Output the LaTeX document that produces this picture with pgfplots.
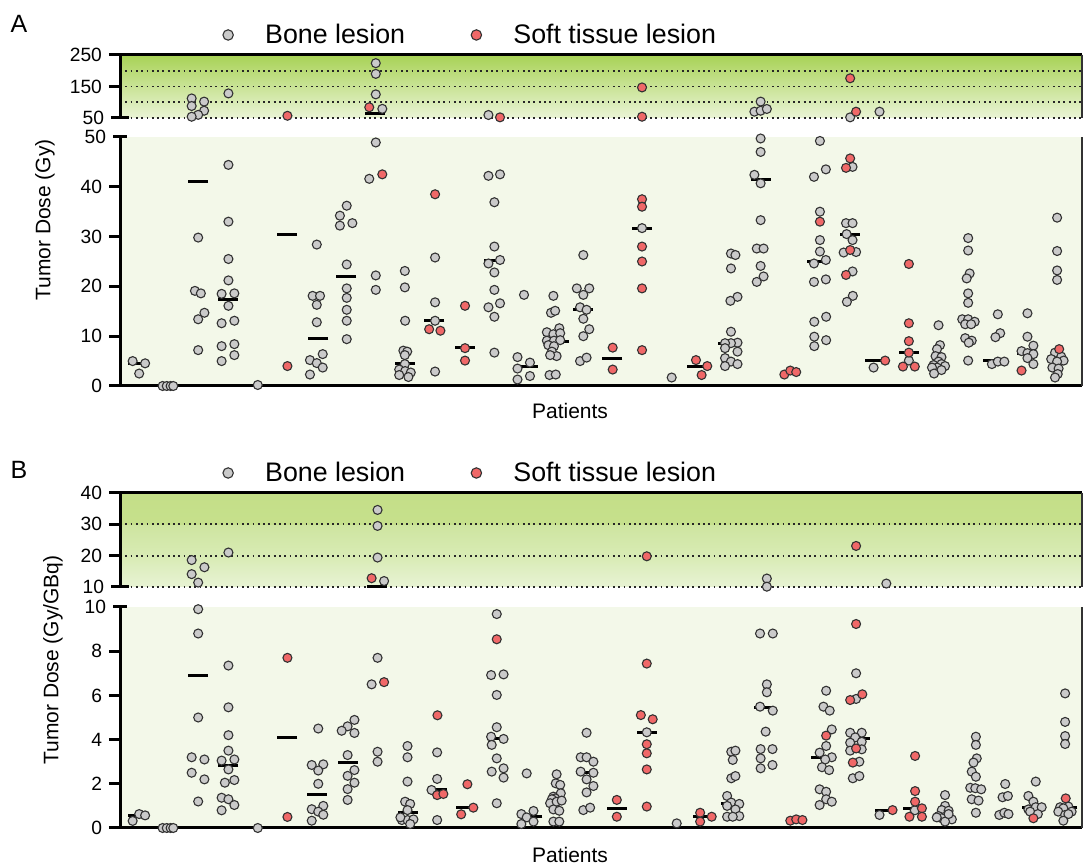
\documentclass[border=0pt]{standalone}
\usepackage{pgfplots}
\pgfplotsset{compat=1.18}
\usepackage{pgfplotstable}
\usepackage{fontspec}
\setmainfont{Liberation Sans}

\definecolor{bonegray}{RGB}{202,202,202}
\definecolor{softred}{RGB}{240,104,104}
\definecolor{edge}{RGB}{50,50,50}
\definecolor{lowbg}{RGB}{243,248,233}
\definecolor{aTop}{RGB}{168,210,86}
\definecolor{aBot}{RGB}{234,244,214}
\definecolor{bTen}{RGB}{232,243,212}
\definecolor{bTwenty}{RGB}{216,235,180}
\definecolor{bThirtyLo}{RGB}{206,229,160}
\definecolor{bThirtyHi}{RGB}{198,224,140}
\definecolor{bForty}{RGB}{196,223,136}

\pgfdeclareverticalshading{ashade}{100bp}{color(0bp)=(aBot); color(25bp)=(aBot); color(75bp)=(aTop); color(100bp)=(aTop)}
\pgfdeclareverticalshading{bshade}{100bp}{color(0bp)=(bTen); color(25bp)=(bTen); color(41.67bp)=(bTwenty); color(58.2bp)=(bThirtyLo); color(58.4bp)=(bThirtyHi); color(75bp)=(bForty); color(100bp)=(bForty)}

% ---------------- Panel A: absorbed tumor dose (Gy) ----------------
\pgfplotstableread{
x y
0.82 5.0
1.04 2.5
1.24 4.55
1.83 0
1.97 0
2.10 0
2.19 0
2.81 112
2.81 88
3.23 102
3.23 73
3.03 60
2.81 54
3.03 29.8
2.92 19.1
3.12 18.6
3.24 14.7
3.03 13.4
3.03 7.2
4.05 128
4.05 44.4
4.05 33
4.05 25.5
4.05 21.2
3.82 18.5
4.25 18.6
4.05 16.1
3.82 12.6
4.25 13.1
3.82 8.0
4.25 8.4
4.25 6.2
3.82 5.0
5.04 0.2
7.03 28.4
6.89 18.1
7.14 18.1
7.03 16.3
7.03 12.8
7.23 6.4
6.80 5.2
7.03 4.6
7.23 3.7
6.80 2.3
8.04 36.2
7.81 34.2
7.81 32.2
8.23 32.7
8.04 24.4
8.04 19.6
8.04 17.7
8.04 15.3
8.04 13.1
8.04 9.4
9.02 224
9.02 190
9.02 125
9.24 79
9.02 48.9
8.80 41.6
9.02 22.2
9.02 19.3
10.00 23.1
10.00 19.8
10.01 13.1
9.95 7.1
10.08 6.9
10.00 6.2
10.00 4.4
9.81 3.3
10.01 3.0
10.20 2.7
9.81 2.2
10.12 1.8
11.02 25.8
11.02 16.8
11.02 13.1
11.02 2.9
12.82 59.5
12.82 42.2
13.21 42.5
13.02 36.9
13.02 28.0
13.21 25.3
12.82 24.6
13.02 22.8
13.02 19.3
13.21 16.6
12.82 15.8
13.02 13.9
13.02 6.7
14.02 18.3
13.80 5.8
14.22 4.7
13.80 3.5
14.22 2.0
13.80 1.3
15.01 18.1
14.93 14.7
15.07 15.1
14.79 10.8
15.01 10.4
15.21 11.6
15.24 10.6
14.79 9.1
15.03 9.1
15.24 9.2
14.84 8.2
15.03 8.0
14.96 6.9
15.12 6.0
14.90 6.2
14.88 2.2
15.09 2.3
16.02 26.3
15.80 19.6
16.22 19.6
16.02 18.3
15.91 15.8
16.13 15.3
16.02 13.5
16.22 11.4
16.02 10.0
15.91 5.0
16.13 5.7
18.00 31.7
19.00 1.7
21.00 26.6
21.15 26.3
21.00 23.6
21.22 17.9
20.98 17.1
21.00 10.9
21.22 8.7
21.00 8.6
20.80 8.6
20.80 7.6
21.22 6.9
20.80 5.6
21.00 4.9
21.22 4.4
20.80 4.0
22.00 102
21.79 70
22.00 73
22.21 78.6
22.00 49.7
22.00 47.0
21.79 42.4
22.00 40.7
22.00 33.3
21.87 27.6
22.10 27.6
22.00 24.1
22.10 22.0
21.87 20.9
24.00 49.2
24.20 43.5
23.80 42.0
24.00 35.0
24.00 29.3
24.00 27.0
24.20 25.3
23.80 24.6
24.20 21.4
23.80 20.9
24.21 13.9
23.81 12.9
23.81 9.9
24.21 9.2
23.81 8.0
25.02 52
25.10 44.0
24.88 32.7
25.10 32.7
24.90 30.5
25.10 29.3
24.80 26.8
25.22 26.9
25.10 23.0
25.11 18.1
24.91 16.9
26.01 70
25.81 3.7
27.00 5.1
28.00 12.2
28.05 8.2
27.95 7.4
27.90 6.0
28.10 5.8
28.00 4.9
27.83 4.2
28.10 4.4
28.22 4.0
27.95 3.7
27.78 3.7
28.10 3.2
27.85 2.5
29.00 29.7
29.00 27.2
29.05 22.6
28.95 21.6
29.00 18.6
29.00 16.7
28.80 13.4
29.00 13.4
29.22 12.9
28.90 12.4
29.10 12.4
28.90 9.6
29.12 9.1
29.02 8.7
29.00 5.1
30.00 14.4
30.08 10.6
29.92 9.8
29.80 4.4
30.00 4.9
30.22 4.9
31.00 14.6
31.00 9.9
31.20 8.1
30.80 7.0
31.00 6.6
31.20 6.4
31.00 5.6
31.20 4.4
32.00 33.8
32.00 27.1
32.00 23.2
32.00 21.3
31.93 6.7
32.14 5.9
31.80 5.4
32.22 5.1
32.00 4.9
31.84 3.7
32.05 3.5
32.02 2.4
31.93 1.7
}\Abone

\pgfplotstableread{
x y
6.04 57
6.04 4.0
8.80 84
9.24 42.5
11.02 38.5
10.82 11.4
11.20 11.1
12.03 16.1
12.03 7.6
12.03 5.1
13.21 52
17.01 7.7
17.01 3.3
18.00 147
18.00 54
18.00 37.5
18.00 36.0
18.00 28.0
18.00 25.0
18.00 19.6
18.00 7.2
19.82 5.2
20.20 4.0
20.01 2.2
22.80 2.3
23.00 3.1
23.20 2.8
24.00 33.0
25.02 176
25.22 70
25.02 45.7
24.88 43.8
25.02 27.3
24.88 22.3
26.20 5.1
27.00 24.5
27.00 12.6
27.00 9.0
27.00 6.7
26.80 3.9
27.20 3.9
30.80 3.1
32.07 7.4
}\Asoft

% medians per patient
\pgfplotstableread{
x y
1.00 4.5
3.03 41.0
4.02 17.3
6.03 30.5
7.08 9.6
8.03 22.0
9.00 64
10.00 4.5
11.00 13.1
12.03 7.8
13.00 25.2
14.15 4.0
15.20 8.9
16.00 15.3
17.00 5.5
18.00 31.7
19.87 4.0
20.90 8.6
22.00 41.5
23.90 25.0
25.00 30.5
25.85 5.1
27.00 6.7
29.85 5.2
31.00 6.6
}\Amed

% ---------------- Panel B: dose per activity (Gy/GBq) ----------------
\pgfplotstableread{
x y
0.82 0.32
1.04 0.63
1.24 0.57
1.83 0
1.97 0
2.10 0
2.19 0
2.81 18.6
3.24 16.3
2.81 14.1
3.03 11.4
3.03 9.9
3.03 8.8
3.03 5.0
2.81 3.2
3.24 3.1
2.81 2.5
3.24 2.2
3.03 1.2
4.05 21.0
4.05 7.35
4.05 5.46
4.05 4.2
4.05 3.5
3.82 3.05
4.25 3.1
4.05 2.65
4.25 2.17
3.93 2.05
3.82 1.37
4.05 1.3
4.25 1.04
3.82 0.8
5.04 0
7.08 4.5
6.86 2.85
7.25 2.88
7.08 2.6
7.08 2.0
6.86 0.85
7.25 1.0
7.08 0.74
7.25 0.6
6.86 0.33
8.30 4.89
8.07 4.6
7.87 4.4
8.30 4.3
8.07 3.3
8.30 2.62
8.07 2.36
8.30 2.05
8.07 1.76
8.07 1.27
9.08 34.6
9.08 29.5
9.08 19.4
9.30 11.9
9.08 7.7
8.88 6.5
9.08 3.45
9.08 3.0
10.09 3.71
10.09 3.2
10.09 2.1
10.01 1.19
10.18 1.09
10.09 0.81
9.90 0.36
10.09 0.36
10.29 0.39
9.85 0.48
10.18 0.18
11.09 3.42
11.09 2.22
10.90 1.72
11.09 0.36
13.10 9.68
12.91 6.92
13.33 6.95
13.10 6.02
13.10 4.56
12.91 4.13
13.33 4.03
12.93 3.76
13.10 3.15
13.33 2.70
12.93 2.55
13.33 2.28
13.10 1.12
14.11 2.47
14.34 0.77
13.93 0.63
14.11 0.48
14.34 0.29
13.93 0.18
15.12 2.43
15.09 2.02
15.24 1.95
15.26 1.57
15.01 1.42
15.07 1.34
14.96 1.30
14.90 1.12
15.12 1.19
15.29 1.24
15.01 0.84
15.21 0.78
15.01 0.29
15.21 0.29
16.13 4.31
15.93 3.2
16.13 3.2
16.36 3.0
15.93 2.55
16.36 2.5
16.13 2.2
16.36 1.9
16.13 1.61
16.02 0.81
16.25 0.92
18.16 4.33
19.17 0.21
21.01 3.45
21.15 3.5
21.06 3.08
21.01 2.25
21.15 2.35
20.87 1.45
21.01 1.15
21.28 1.09
20.87 1.0
21.15 0.84
20.87 0.51
21.28 0.54
21.06 0.51
22.21 12.7
22.21 10.1
21.98 8.8
22.41 8.8
22.21 6.5
22.21 6.14
21.98 5.49
22.41 5.31
22.17 4.36
22.00 3.57
22.40 3.57
22.00 3.15
22.40 2.85
22.00 2.7
24.21 6.21
24.12 5.49
24.33 5.31
24.40 4.46
24.21 3.71
23.99 3.41
24.40 3.2
24.18 3.1
24.07 2.75
24.31 2.62
23.99 1.75
24.21 1.64
24.21 1.30
23.99 1.04
24.40 1.19
25.22 7.0
25.22 5.84
25.02 4.31
25.41 4.31
25.19 4.1
25.02 3.86
25.41 3.9
25.41 3.56
25.02 3.5
25.33 3.0
25.11 2.25
25.33 2.35
26.24 11.1
26.01 0.59
27.20 0.80
28.22 1.49
28.22 1.0
28.11 0.81
28.34 0.78
28.00 0.54
28.22 0.51
28.45 0.39
28.11 0.44
28.22 0.29
27.94 0.48
28.34 0.63
29.26 4.13
29.26 3.76
29.29 3.15
29.18 2.96
29.12 2.55
29.26 2.32
29.07 1.82
29.24 1.80
29.44 1.75
29.12 1.30
29.35 1.24
29.26 0.69
30.25 1.99
30.16 1.39
30.34 1.45
30.05 0.59
30.22 0.69
30.36 0.63
31.28 2.10
31.03 1.45
31.20 1.19
31.03 0.84
31.28 0.94
31.48 0.94
31.09 0.74
31.35 0.63
32.27 6.09
32.27 4.8
32.27 4.16
32.27 3.8
32.10 0.94
32.38 0.97
32.21 0.89
32.49 0.74
32.04 0.74
32.27 0.59
32.38 0.63
32.21 0.33
}\Bbone

\pgfplotstableread{
x y
6.04 7.7
6.04 0.5
8.88 12.8
9.30 6.6
11.10 5.1
11.09 1.49
11.30 1.54
12.11 1.98
12.31 0.92
11.90 0.62
13.10 8.54
17.15 1.27
17.15 0.51
18.16 19.8
18.16 7.44
17.96 5.11
18.36 4.92
18.16 3.79
18.16 3.38
18.16 2.65
18.16 0.97
19.96 0.69
20.35 0.51
19.96 0.29
23.00 0.33
23.20 0.39
23.41 0.36
24.21 4.18
25.22 23.1
25.22 9.23
25.02 5.79
25.43 6.05
25.22 3.6
25.11 2.96
26.45 0.81
27.21 3.26
27.21 1.67
27.21 1.19
27.44 0.89
27.02 0.51
27.44 0.51
31.20 0.44
32.29 1.34
}\Bsoft

\pgfplotstableread{
x y
1.00 0.55
3.03 6.9
4.05 2.85
6.04 4.1
7.03 1.52
8.07 2.95
9.05 10.1
10.09 0.69
11.10 1.72
12.05 0.92
13.10 4.06
14.30 0.54
16.10 2.5
17.15 0.89
18.16 4.33
20.05 0.51
21.00 1.12
22.10 5.44
24.05 3.18
25.35 4.03
26.20 0.81
27.15 0.89
31.15 0.94
32.35 0.94
}\Bmed

\pgfplotsset{
  legimg/.style={legend image code/.code={%
    \path[draw=none, fill=none] (-2.6pt,0pt) -- (16.5pt,0pt);
    \draw[##1, mark size=2.6pt] plot coordinates {(0pt,0pt)};}},
  bone/.style={only marks, mark=*, mark size=2.25pt,
    mark options={fill=bonegray, draw=edge, line width=0.55pt}, legimg},
  soft/.style={only marks, mark=*, mark size=2.25pt,
    mark options={fill=softred, draw=edge, line width=0.55pt}, legimg},
  med/.style={only marks, mark=-, mark size=5pt,
    mark options={draw=black, line width=1.5pt}},
  dotline/.style={black!85, line width=0.9pt, dash pattern=on 0.9pt off 1.75pt},
  panel/.style={
    scale only axis, width=481pt,
    xmin=0.393, xmax=32.84, xtick=\empty,
    clip=false,
    axis y line*=left,
    axis line style={-, line width=1.5pt, black},
    ytick pos=left,
    tick align=outside,
    major tick length=5.5pt,
    tick style={black, line width=1.5pt},
    /pgf/number format/assume math mode=true,
    ticklabel style={font=\fontsize{9.6}{11}\selectfont},
    legend columns=2,
    legend style={draw=none, fill=none, inner sep=0pt, outer sep=0pt,
      font=\fontsize{13.4}{15}\selectfont,
      /tikz/every even column/.append style={column sep=31pt}},
  },
}

\begin{document}
\begin{tikzpicture}
\path (0pt,0pt) rectangle (542.5pt,432.5pt);

% ---------- A, upper (broken) range ----------
\begin{axis}[panel, at={(60pt,373.5pt)}, anchor=south west, height=31.5pt,
  ymin=50, ymax=250, ytick={150,250}, extra y ticks={50},
  extra y tick style={tick align=center, major tick length=9pt, grid=major},
  minor ytick={100,200}, minor tick length=0pt,
  ymajorgrids, yminorgrids,
  major grid style={dotline}, minor grid style={dotline},
  axis x line*=top,
  axis background/.style={shade, shading=ashade},
  restrict y to domain=50:300,
  legend style={at={(0.107,1)}, anchor=west, yshift=10pt},
  after end axis/.code={\draw[edge, line width=0.8pt] (rel axis cs:1,0) -- (rel axis cs:1,1);}]
\addplot[med, forget plot] table {\Amed};
\addplot[bone] table {\Abone};
\addlegendentry{Bone lesion}
\addplot[soft] table {\Asoft};
\addlegendentry{Soft tissue lesion}
\end{axis}

% ---------- A, lower range ----------
\begin{axis}[panel, at={(60pt,239.5pt)}, anchor=south west, height=124.5pt,
  ymin=0, ymax=50, ytick={0,10,20,30,40}, extra y ticks={50},
  extra y tick style={tick align=center, major tick length=7pt},
  axis x line*=bottom,
  axis background/.style={fill=lowbg},
  restrict y to domain=-1:50,
  after end axis/.code={\draw[edge, line width=0.6pt] (rel axis cs:1,0) -- (rel axis cs:1,1);}]
\addplot[med] table {\Amed};
\addplot[bone] table {\Abone};
\addplot[soft] table {\Asoft};
\end{axis}

% ---------- B, upper (broken) range ----------
\begin{axis}[panel, at={(60pt,139pt)}, anchor=south west, height=47pt,
  ymin=10, ymax=40, ytick={20,30,40}, extra y ticks={10},
  extra y tick style={tick align=center, major tick length=9pt, grid=major},
  ymajorgrids, major grid style={dotline},
  axis x line*=top,
  axis background/.style={shade, shading=bshade},
  restrict y to domain=10:60,
  legend style={at={(0.107,1)}, anchor=west, yshift=10pt},
  after end axis/.code={\draw[edge, line width=0.8pt] (rel axis cs:1,0) -- (rel axis cs:1,1);}]
\addplot[med, forget plot] table {\Bmed};
\addplot[bone] table {\Bbone};
\addlegendentry{Bone lesion}
\addplot[soft] table {\Bsoft};
\addlegendentry{Soft tissue lesion}
\end{axis}

% ---------- B, lower range ----------
\begin{axis}[panel, at={(60pt,18.5pt)}, anchor=south west, height=110.5pt,
  ymin=0, ymax=10, ytick={0,2,4,6,8}, extra y ticks={10},
  extra y tick style={tick align=center, major tick length=7pt},
  axis x line*=bottom,
  axis background/.style={fill=lowbg},
  restrict y to domain=-1:10,
  after end axis/.code={\draw[edge, line width=0.6pt] (rel axis cs:1,0) -- (rel axis cs:1,1);}]
\addplot[med] table {\Bmed};
\addplot[bone] table {\Bbone};
\addplot[soft] table {\Bsoft};
\end{axis}

% panel letters, axis titles
\node[font=\fontsize{12.5}{14}\selectfont] at (9.5pt,420.5pt) {A};
\node[font=\fontsize{12.5}{14}\selectfont] at (9.5pt,197.5pt) {B};
\node[rotate=90, font=\fontsize{10.5}{12}\selectfont] at (22.5pt,322.5pt) {Tumor Dose (Gy)};
\node[rotate=90, font=\fontsize{10.5}{12}\selectfont] at (26.5pt,102.5pt) {Tumor Dose (Gy/GBq)};
\node[font=\fontsize{10.5}{12}\selectfont, inner sep=0pt] at (285pt,227pt) {Patients};
\node[font=\fontsize{10.5}{12}\selectfont, inner sep=0pt] at (285pt,5pt) {Patients};
\end{tikzpicture}
\end{document}
